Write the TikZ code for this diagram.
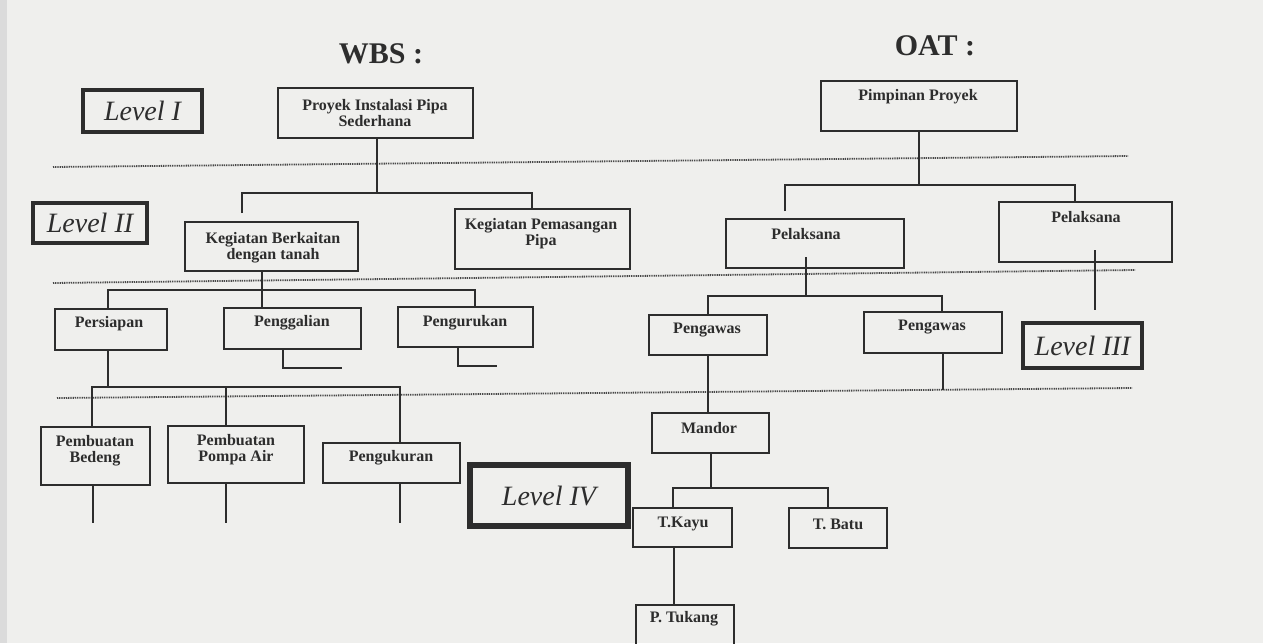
\documentclass[tikz,border=0pt]{standalone}
\usepackage{fontspec}
\setmainfont{Liberation Serif}
\definecolor{paper}{RGB}{239,239,237}
\definecolor{ink}{RGB}{45,45,45}
\newcommand\mybox[6][box]{\node[#1, minimum width={(#5-#3)*0.5pt}, minimum height={(#6-#4)*0.5pt}] (#2) at ({(#3+#5)/2},{(#4+#6)/2}) {};}
\begin{document}
\begin{tikzpicture}[x=0.5pt,y=-0.5pt,
  box/.style={draw=ink, line width=0.9pt, rectangle, inner sep=0pt},
  lvl/.style={draw=ink, line width=2.1pt, rectangle, inner sep=0pt},
  lvlb/.style={draw=ink, line width=2.8pt, rectangle, inner sep=0pt},
  txt/.style={font=\fontsize{8}{8}\selectfont\bfseries, text=ink, inner sep=0pt, align=center},
  lvtxt/.style={font=\fontsize{14}{16}\selectfont\itshape, text=ink, inner sep=0pt},
  ttl/.style={font=\fontsize{15}{18}\selectfont\bfseries, text=ink, inner sep=0pt},
  conn/.style={draw=ink, line width=0.9pt},
  sep/.style={draw=black!72, line width=0.9pt, dash pattern=on 0.5pt off 0.4pt}]
\useasboundingbox (0,0) rectangle (1263,643);
\fill[paper] (0,0) rectangle (1263,643);
\fill[black!14] (0,0) rectangle (7,643);
\clip (0,0) rectangle (1263,643);

% titles
\node[ttl] (wbs) at (381,54) {WBS :};
\node[ttl] (oat) at (935,46) {OAT :};

% separators
\draw[sep] (53,167) -- (1128,156);
\draw[sep] (53,283) -- (1135,270);
\draw[sep] (57,398) -- (1132,388);

% level labels
\mybox[lvl]{lv1}{83}{90}{202}{132}
\node[lvtxt] at (lv1.center) {Level I};
\mybox[lvl]{lv2}{33}{203}{147}{243}
\node[lvtxt] at (lv2.center) {Level II};
\mybox[lvl]{lv3}{1023}{323}{1142}{368}
\node[lvtxt] at (lv3.center) {Level III};
\mybox[lvlb]{lv4}{470}{465}{628}{526}
\node[lvtxt] at (lv4.center) {Level IV};

% WBS boxes
\mybox{proyek}{278}{88}{473}{138}
\node[txt] at (375,113) {Proyek Instalasi Pipa\\Sederhana};
\mybox{kb}{185}{222}{358}{271}
\node[txt] at (273,248) {Kegiatan Berkaitan\\dengan tanah};
\mybox{kp}{455}{209}{630}{269}
\node[txt] at (541,234) {Kegiatan Pemasangan\\Pipa};
\mybox{persiapan}{55}{309}{167}{350}
\node[txt] at (109,324) {Persiapan};
\mybox{penggalian}{224}{308}{361}{349}
\node[txt] at (292,323) {Penggalian};
\mybox{pengurukan}{398}{307}{533}{347}
\node[txt] at (465,323) {Pengurukan};
\mybox{bedeng}{41}{427}{150}{485}
\node[txt] at (95,451) {Pembuatan\\Bedeng};
\mybox{pompa}{168}{426}{304}{483}
\node[txt] at (236,450) {Pembuatan\\Pompa Air};
\mybox{ukur}{323}{443}{460}{483}
\node[txt] at (391,458) {Pengukuran};

% OAT boxes
\mybox{pimpinan}{821}{81}{1017}{131}
\node[txt] at (918,97) {Pimpinan Proyek};
\mybox{pel1}{726}{219}{904}{268}
\node[txt] at (806,234) {Pelaksana};
\mybox{pel2}{999}{202}{1172}{262}
\node[txt] at (1086,217) {Pelaksana};
\mybox{pengawas1}{649}{315}{767}{355}
\node[txt] at (707,330) {Pengawas};
\mybox{pengawas2}{864}{312}{1002}{353}
\node[txt] at (932,327) {Pengawas};
\mybox{mandor}{652}{413}{769}{453}
\node[txt] at (709,428) {Mandor};
\mybox{tkayu}{633}{508}{732}{547}
\node[txt] at (683,524) {T.Kayu};
\mybox{tbatu}{789}{508}{887}{548}
\node[txt] at (838,524) {T. Batu};
\mybox{ptukang}{636}{605}{734}{660}
\node[txt] at (684,619) {P. Tukang};

% WBS connectors
\coordinate (a0) at (377,193);
\coordinate (a1) at (242,193); \coordinate (a1e) at (242,213); \coordinate (a2) at (532,193);
\draw[conn] (proyek.south -| a0) -- (a0);
\draw[conn] (a1e) -- (a1) -- (a2) -- (a2 |- kp.north);
\coordinate (b0) at (262,290); \coordinate (b1) at (108,290); \coordinate (b3) at (475,290);
\draw[conn] (kb.south -| b0) -- (b0) -- (penggalian.north -| b0);
\draw[conn] (persiapan.north -| b1) -- (b1) -- (b3) -- (pengurukan.north -| b3);
\coordinate (g1) at (283,368); \coordinate (g2) at (342,368);
\draw[conn] (penggalian.south -| g1) -- (g1) -- (g2);
\coordinate (u1) at (458,366); \coordinate (u2) at (497,366);
\draw[conn] (pengurukan.south -| u1) -- (u1) -- (u2);
\coordinate (c0) at (108,387); \coordinate (c1) at (92,387); \coordinate (c2) at (226,387); \coordinate (c3) at (400,387);
\draw[conn] (persiapan.south -| c0) -- (c0);
\draw[conn] (bedeng.north -| c1) -- (c1) -- (c3) -- (ukur.north -| c3);
\draw[conn] (c2) -- (pompa.north -| c2);
\coordinate (s1) at (93,523); \coordinate (s2) at (226,523); \coordinate (s3) at (400,523);
\draw[conn] (bedeng.south -| s1) -- (s1);
\draw[conn] (pompa.south -| s2) -- (s2);
\draw[conn] (ukur.south -| s3) -- (s3);

% OAT connectors
\coordinate (d1) at (785,185); \coordinate (d1e) at (785,211); \coordinate (d2) at (1075,185);
\draw[conn] (pimpinan.south) -- (pimpinan.south |- d1);
\draw[conn] (d1e) -- (d1) -- (d2) -- (pel2.north -| d2);
\coordinate (p2a) at (1095,250); \coordinate (p2b) at (1095,310);
\draw[conn, line width=0.7pt] (p2a) -- (p2b);
\coordinate (e0s) at (806,257); \coordinate (e0) at (806,296); \coordinate (e1) at (708,296); \coordinate (e2) at (942,296);
\draw[conn] (e0s) -- (e0);
\draw[conn] (pengawas1.north -| e1) -- (e1) -- (e2) -- (pengawas2.north -| e2);
\coordinate (f1) at (943,390);
\draw[conn] (pengawas2.south -| f1) -- (f1);
\draw[conn] (pengawas1.south) -- (pengawas1.south |- mandor.north);
\coordinate (h0) at (711,488); \coordinate (hk) at (673,488); \coordinate (hb) at (828,488);
\draw[conn] (mandor.south -| h0) -- (h0);
\draw[conn] (tkayu.north -| hk) -- (hk) -- (hb) -- (tbatu.north -| hb);
\coordinate (t1) at (674,550);
\draw[conn] (tkayu.south -| t1) -- (ptukang.north -| t1);
\end{tikzpicture}
\end{document}
